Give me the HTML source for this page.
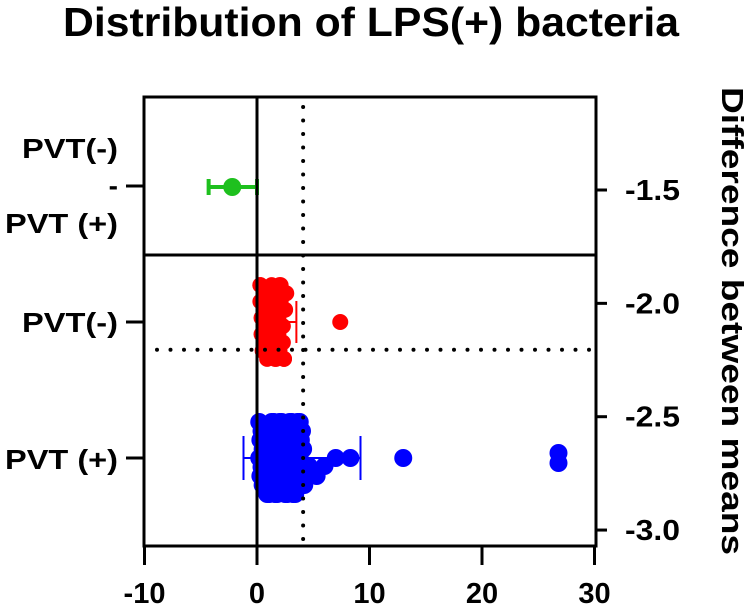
<!DOCTYPE html>
<html><head><meta charset="utf-8"><style>
html,body{margin:0;padding:0;background:#fff;}
svg{display:block;font-family:"Liberation Sans",Arial,sans-serif;font-weight:bold;}
</style></head><body>
<svg id="chart" width="755" height="611" viewBox="0 0 755 611">
<text x="63" y="36" font-size="41" textLength="616" lengthAdjust="spacingAndGlyphs">Distribution of LPS(+) bacteria</text>
<g id="marks"></g>
<g id="axes"></g>
</svg>
<script>
// Data
const xTicks = [-10, 0, 10, 20, 30];
const rightTicks = [-1.5, -2.0, -2.5, -3.0];
const diffMean = -2.2;
const diffLow = -4.3;
const diffHigh = 0.0;
const redValues = [0.3,0.6,1.0,1.4,1.8,2.2,0.4,0.8,1.2,1.6,2.0,2.4,0.3,0.7,1.1,1.5,1.9,2.3,0.5,0.9,1.3,1.7,2.1,2.5,0.4,0.8,1.2,1.6,2.0,2.4,0.3,0.7,1.1,1.5,1.9,2.3,0.5,0.9,1.3,1.7,2.1,2.6,0.4,1.0,1.6,2.2,0.6,1.2,1.8,2.4,7.4];
const redMean = 1.6, redLow = 1.6, redHigh = 3.5;
const blueValues = [0.2,0.6,1.0,1.4,1.8,2.2,2.6,3.0,3.4,3.8,0.4,0.8,1.2,1.6,2.0,2.4,2.8,3.2,3.6,4.0,0.3,0.7,1.1,1.5,1.9,2.3,2.7,3.1,3.5,3.9,0.5,0.9,1.3,1.7,2.1,2.5,2.9,3.3,3.7,4.1,0.2,0.6,1.0,1.4,1.8,2.2,2.6,3.0,3.4,3.8,0.4,0.8,1.2,1.6,2.0,2.4,2.8,3.2,3.6,4.0,0.3,0.7,1.1,1.5,1.9,2.3,2.7,3.1,3.5,3.9,0.5,0.9,1.3,1.7,2.1,2.5,2.9,3.3,3.7,4.2,4.6,5.3,6.0,7.0,8.3,13.0,26.8,26.8];
const blueMean = 4.0, blueLow = -1.2, blueHigh = 9.2;
const refX = 4.1;
const refDiff = -2.2;

const NS = "http://www.w3.org/2000/svg";
const L = 144, R = 596, T = 97, B = 546, DIV = 255;
const xs = v => 257 + v * 11.25;
const ys = v => 190 + (v - (-1.5)) * (-226.7);
const marks = document.getElementById('marks');
const axes = document.getElementById('axes');
function mk(tag, attrs, parent) {
  const e = document.createElementNS(NS, tag);
  for (const k in attrs) e.setAttribute(k, attrs[k]);
  parent.appendChild(e);
  return e;
}
function line(x1,y1,x2,y2,col,w,parent,dash){
  const e = mk('line',{x1:x1,y1:y1,x2:x2,y2:y2,stroke:col,'stroke-width':w},parent);
  if(dash){e.setAttribute('stroke-dasharray','0 13.5');e.setAttribute('stroke-linecap','round');}
  return e;
}
const vd = line(xs(refX), T+10, xs(refX), B, '#000', 4, axes, true);


const hd = line(L+13, ys(refDiff)+1, R, ys(refDiff)+1, '#000', 4, axes, true);



function swarm(vals, cy, rows, rowGap, col, r, name){
  const counts = {};
  vals.forEach((v,i)=>{
    let y;
    if (v > 4.3) {
      const key = Math.round(v);
      counts[key] = (counts[key]||0);
      y = cy + (counts[key] === 0 ? 0 : 10) - (key > 20 ? 5 : 0) + (v > 4.3 && v < 9 ? (v < 6.5 ? 8 : 0) : 0);
      counts[key]++;
    } else {
      const k = i % rows;
      y = cy + (k - (rows-1)/2) * rowGap;
    }
    const c = mk('circle',{cx:xs(v),cy:y,r:r,fill:col},marks);
    
    
  });
}
const redY = 322, blueY = 458;
swarm(redValues, redY, 10, 8.2, '#ff0000', 8, 'pvt-neg-point');
swarm(blueValues, blueY, 9, 9, '#0000ff', 9, 'pvt-pos-point');

function ebar(mean, lo, hi, cy, col, cap, name){
  const g = mk('g',{},marks);
  
  
  line(xs(lo), cy, xs(hi), cy, col, 2, g);
  line(xs(lo), cy-cap, xs(lo), cy+cap, col, 2, g);
  line(xs(hi), cy-cap, xs(hi), cy+cap, col, 2, g);
}
ebar(redMean, redLow, redHigh, redY, '#ff0000', 21, 'pvt-neg-error-bar');
ebar(blueMean, blueLow, blueHigh, blueY, '#0000ff', 22, 'pvt-pos-error-bar');

const gd = mk('g',{},marks);


const dy = 187;
line(xs(diffLow), dy, xs(diffHigh), dy, '#1ec01e', 4, gd);
line(xs(diffLow), dy-8, xs(diffLow), dy+8, '#1ec01e', 4, gd);
line(xs(diffHigh), dy-8, xs(diffHigh), dy+8, '#1ec01e', 4, gd);
const dm = mk('circle',{cx:xs(diffMean),cy:dy,r:9,fill:'#1ec01e'},marks);



const fr = mk('rect',{x:L,y:T,width:R-L,height:B-T,fill:'none',stroke:'#000','stroke-width':3},axes);


const dv = line(L, DIV, R, DIV, '#000', 3, axes);


const zl = line(xs(0), T, xs(0), B, '#000', 3, axes);



xTicks.forEach(t=>{
  line(xs(t), B, xs(t), B+19, '#000', 3, axes);
  const tx = mk('text',{x:xs(t),y:603,'font-size':29,'text-anchor':'middle'},axes);
  tx.textContent = t;
  
  
});
rightTicks.forEach(t=>{
  line(R, ys(t), R+11, ys(t), '#000', 3, axes);
  const tx = mk('text',{x:625,y:ys(t)+10,'font-size':29,textLength:55,lengthAdjust:'spacingAndGlyphs'},axes);
  tx.textContent = t.toFixed(1);
  
  
});
const cats = [['PVT(-)',118,158,96],['-',118,195,0],['PVT (+)',118,233,113],['PVT(-)',118,332,96],['PVT (+)',118,469,113]];
cats.forEach(c=>{
  const tx = mk('text',{x:c[1],y:c[2],'font-size':28,'text-anchor':'end'},axes);
  if (c[3]) { tx.setAttribute('textLength', c[3]); tx.setAttribute('lengthAdjust','spacingAndGlyphs'); }
  tx.textContent = c[0];
  
  
});
[186, 322, 458].forEach(y=>line(126, y, L, y, '#000', 3, axes));
const rt = mk('text',{x:0,y:0,'font-size':31,'text-anchor':'middle',textLength:468,lengthAdjust:'spacingAndGlyphs',transform:'translate(722,321) rotate(90)'},axes);
rt.textContent = 'Difference between means';


</script>
</body></html>
